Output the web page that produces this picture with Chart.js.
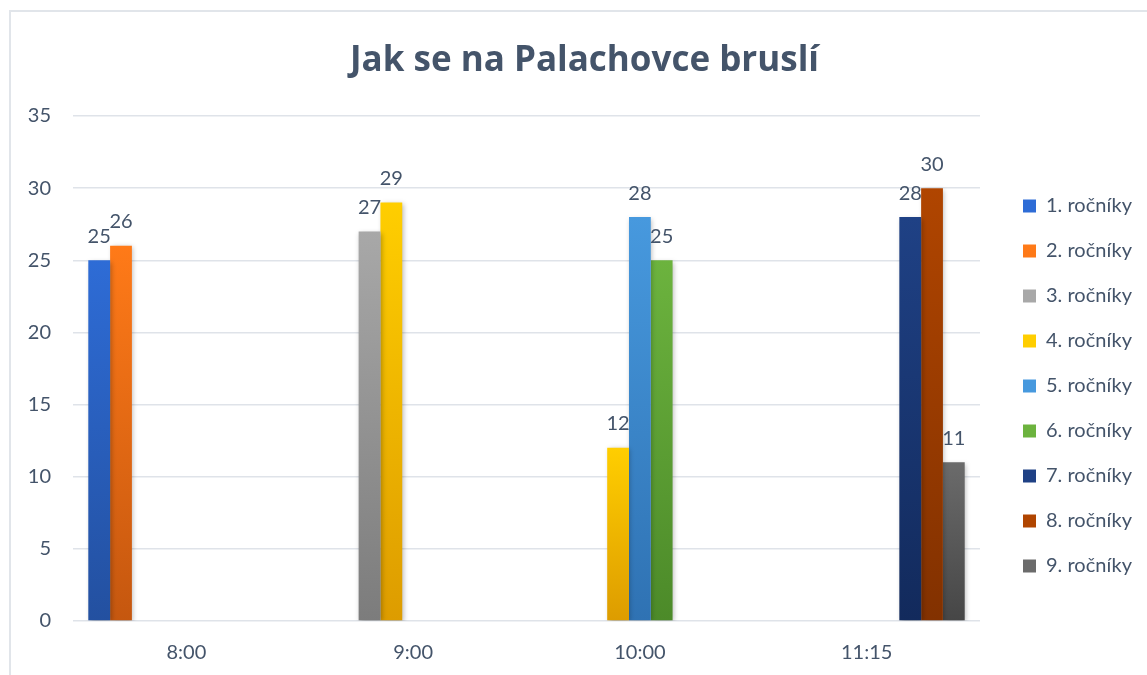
<!DOCTYPE html>
<html>
<head>
<meta charset="utf-8">
<script src="https://cdn.jsdelivr.net/npm/chart.js@4.4.0/dist/chart.umd.min.js"></script>
<style>
  body { margin: 0; background: #fff; }
  canvas { display: block; }
</style>
</head>
<body>
<canvas id="brusleni-chart" width="1147" height="675"></canvas>
<script>
// Jak se na Palachovce brusli - data
var casy = ['8:00', '9:00', '10:00', '11:15'];
var rocniky = ['1. ročníky', '2. ročníky', '3. ročníky', '4. ročníky', '5. ročníky',
               '6. ročníky', '7. ročníky', '8. ročníky', '9. ročníky'];
var r1 = [25, null, null, null];
var r2 = [26, null, null, null];
var r3 = [null, 27, null, null];
var r4 = [null, 29, 12, null];
var r5 = [null, null, 28, null];
var r6 = [null, null, 25, null];
var r7 = [null, null, null, 28];
var r8 = [null, null, null, 30];
var r9 = [null, null, null, 11];
var yMin = 0, yMax = 35, yStep = 5;

// barvy: horni a dolni konec prechodu
var barvyHore = ['#2e6cd6', '#ff7a18', '#a8a8a8', '#ffce00', '#4799de', '#6cb33e', '#1f4185', '#b04500', '#6b6b6b'];
var barvyDole = ['#2350a0', '#c5570f', '#7c7c7c', '#dd9c00', '#2f72b3', '#4c8a29', '#122a5c', '#823100', '#464646'];

var textColor = '#44546a';
Chart.defaults.font.family = 'Lato, "Open Sans", sans-serif';
Chart.defaults.color = textColor;

function prechod(i) {
  return function (ctx) {
    if (ctx.type !== 'data' || ctx.raw == null) return barvyHore[i];
    var y = ctx.chart.scales.y;
    if (!y) return barvyHore[i];
    var top = y.getPixelForValue(ctx.raw);
    var base = y.getPixelForValue(0);
    if (!isFinite(top) || !isFinite(base) || top === base) return barvyHore[i];
    var g = ctx.chart.ctx.createLinearGradient(0, top, 0, base);
    g.addColorStop(0, barvyHore[i]);
    g.addColorStop(1, barvyDole[i]);
    return g;
  };
}

var hodnoty = [r1, r2, r3, r4, r5, r6, r7, r8, r9];
var datasets = hodnoty.map(function (d, i) {
  return {
    label: rocniky[i],
    data: d,
    backgroundColor: prechod(i),
    borderWidth: 0
  };
});

// ramecek, stiny pod sloupci a popisky hodnot
var excelLook = {
  id: 'excelLook',
  beforeDraw: function (chart) {
    var c = chart.ctx;
    c.save();
    c.strokeStyle = '#e1e5ea';
    c.lineWidth = 2;
    c.strokeRect(10, 11, 3000, 3000);
    c.restore();
  },
  beforeDatasetsDraw: function (chart) {
    var c = chart.ctx;
    c.save();
    c.shadowColor = 'rgba(0,0,0,0.28)';
    c.shadowBlur = 5;
    c.shadowOffsetX = 1.5;
    c.shadowOffsetY = 1.5;
  },
  afterDatasetsDraw: function (chart) {
    var c = chart.ctx;
    c.restore();
    c.save();
    c.font = '20px Lato, "Open Sans", sans-serif';
    c.fillStyle = textColor;
    c.textAlign = 'center';
    c.textBaseline = 'alphabetic';
    chart.data.datasets.forEach(function (ds, i) {
      var meta = chart.getDatasetMeta(i);
      meta.data.forEach(function (bar, j) {
        if (ds.data[j] == null) return;
        c.fillText(ds.data[j], bar.x, bar.y - 17.5);
      });
    });
    c.restore();
  }
};

var brusleniChart = new Chart(document.getElementById('brusleni-chart'), {
  type: 'bar',
  data: {
    labels: casy,
    datasets: datasets
  },
  options: {
    responsive: false,
    animation: false,
    categoryPercentage: 0.865,
    barPercentage: 1,
    layout: {
      padding: { left: 27, right: 5, top: 0, bottom: 0 }
    },
    scales: {
      x: {
        grid: { display: false },
        border: { display: false },
        ticks: { font: { size: 20 }, padding: 12, color: textColor },
        afterFit: function (s) { s.height = 54; }
      },
      y: {
        min: yMin,
        max: yMax,
        ticks: { stepSize: yStep, font: { size: 20 }, padding: 22, color: textColor },
        grid: { color: '#dfe3e9', lineWidth: 1.5, drawTicks: false },
        border: { display: false },
        afterFit: function (s) { s.width = 46; }
      },
      mezera: {
        type: 'linear',
        position: 'right',
        display: true,
        grid: { display: false },
        ticks: { display: false },
        border: { display: false },
        afterFit: function (s) { s.width = 18; }
      }
    },
    plugins: {
      title: {
        display: true,
        text: 'Jak se na Palachovce bruslí',
        color: textColor,
        font: { family: '"Open Sans", Lato, sans-serif', size: 35, weight: 'bold' },
        padding: { top: 40, bottom: 34 }
      },
      legend: {
        position: 'right',
        fullSize: false,
        title: { display: true, text: '', padding: 5.5, font: { size: 20 } },
        labels: {
          boxWidth: 13,
          boxHeight: 13,
          padding: 25,
          color: textColor,
          font: { size: 20 }
        }
      },
      tooltip: { enabled: false }
    }
  },
  plugins: [excelLook]
});
</script>
</body>
</html>
